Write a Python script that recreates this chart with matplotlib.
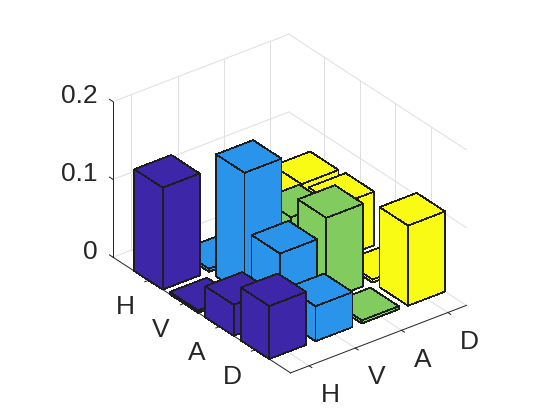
import numpy as np
import matplotlib
matplotlib.use('Agg')
import matplotlib.pyplot as plt
from mpl_toolkits.mplot3d import proj3d

labels = ['H', 'V', 'A', 'D']
z_ticks = [0, 0.1, 0.2]
z_tick_labels = ['0', '0.1', '0.2']

# one list per column of the matrix, ordered H V A D along y
col_h = [0.131, 0.003, 0.040, 0.068]
col_v = [0.004, 0.157, 0.083, 0.045]
col_a = [0.020, 0.077, 0.106, 0.004]
col_d = [0.067, 0.069, 0.004, 0.103]
columns = [col_h, col_v, col_a, col_d]
colors = ['#3E26A8', '#2A93EA', '#82CB5E', '#F9FB15']

xlim = (0.6, 4.4)
ylim = (0, 5)
zlim = (0, 0.2)
width = 0.8
dark = '#262626'
grid = '#DFDFDF'
lw = 0.72

plt.rcParams['font.family'] = ['Liberation Sans', 'DejaVu Sans']

fig = plt.figure(figsize=(5.6, 4.2), dpi=100)
ax = fig.add_axes([74.0 / 560, 0.8 / 420, 420 / 560, 420 / 420], projection='3d',
                  proj_type='ortho', computed_zorder=False)
ax.set_box_aspect((3.8, 5, 3.08), zoom=0.943)
ax.view_init(elev=30, azim=-127.5)
ax.set_xlim(*xlim)
ax.set_ylim(ylim[1], ylim[0])
ax.set_zlim(*zlim)
ax.set_axis_off()
ax.patch.set_alpha(0)

# back walls and floor grid
for t in range(1, 5):
    ax.plot([t, t], [ylim[0], ylim[1]], [0, 0], color=grid, lw=lw, zorder=1)
    ax.plot([xlim[0], xlim[1]], [t, t], [0, 0], color=grid, lw=lw, zorder=1)
    ax.plot([t, t], [ylim[0], ylim[0]], zlim, color=grid, lw=lw, zorder=1)
    ax.plot([xlim[1], xlim[1]], [t, t], zlim, color=grid, lw=lw, zorder=1)
for z in z_ticks:
    ax.plot(xlim, [ylim[0], ylim[0]], [z, z], color=grid, lw=lw, zorder=1)
    ax.plot([xlim[1], xlim[1]], ylim, [z, z], color=grid, lw=lw, zorder=1)

# axis lines and ticks
ax.plot([xlim[0], xlim[0]], ylim, [0, 0], color=dark, lw=lw, zorder=2)
ax.plot(xlim, [ylim[1], ylim[1]], [0, 0], color=dark, lw=lw, zorder=2)
ax.plot([xlim[0], xlim[0]], [ylim[0], ylim[0]], zlim, color=dark, lw=lw, zorder=2)
for t in range(1, 5):
    ax.plot([xlim[0], xlim[0] - 0.08], [t, t], [0, 0], color=dark, lw=lw, zorder=2)
    ax.plot([t, t], [ylim[1], ylim[1] + 0.08], [0, 0], color=dark, lw=lw, zorder=2)
for z in z_ticks:
    ax.plot([xlim[0], xlim[0]], [ylim[0], ylim[0] - 0.1], [z, z], color=dark, lw=lw, zorder=2)

# bars, painted back to front
for i, col in enumerate(columns):
    for j, h in enumerate(col):
        x = i + 1
        y = j + 1
        ax.bar3d(x - width / 2, y - width / 2, 0, width, width, h, color=colors[i],
                 edgecolor='#1E1E1E', linewidth=0.5, shade=False, antialiased=False,
                 zorder=10 + 0.793 * y - 0.609 * x)


def put_label(x, y, z, lab, ha):
    # 3D position -> flat axes coordinates, so the label sits where the tick is
    px, py, _ = proj3d.proj_transform(x, y, z, ax.get_proj())
    ax.text2D(px, py, lab, transform=ax.transData, fontsize=19, color=dark, ha=ha, va='center')


# tick labels
for t, lab in enumerate(labels, start=1):
    put_label(xlim[0] - 0.5, t, -0.023, lab, 'center')
    put_label(t, ylim[1] + 0.6, -0.02, lab, 'center')
for z, lab in zip(z_ticks, z_tick_labels):
    put_label(xlim[0], ylim[0] - 0.43, z - 0.006, lab, 'right')

fig.savefig('out.png', dpi=100)
